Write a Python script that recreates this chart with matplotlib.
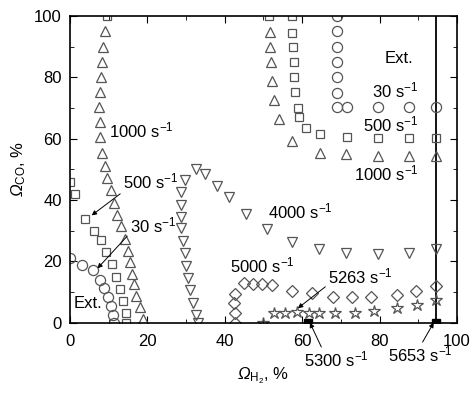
import matplotlib as mpl
mpl.use('Agg')
import matplotlib.pyplot as plt

plt.rcParams['font.family'] = ['Liberation Sans', 'DejaVu Sans']
plt.rcParams['mathtext.fontset'] = 'custom'
plt.rcParams['mathtext.rm'] = 'Liberation Sans'
plt.rcParams['mathtext.it'] = 'Liberation Sans:italic'
plt.rcParams['mathtext.sf'] = 'Liberation Sans:italic'

# 30 s-1 (circles)
c30_x = [0, 3.0, 6.0, 7.8, 8.9, 9.7, 10.6, 11.2, 11.5,
         69, 69, 69, 69, 69, 69, 69, 71.5, 79.6, 87.6, 94.6]
c30_y = [21, 18.7, 17.2, 14.0, 11.3, 8.3, 5.3, 2.6, 0,
         100, 95, 90, 85, 80, 75, 70.4, 70.4, 70.4, 70.4, 70.4]

# 500 s-1 (squares)
s500_x = [9.5, 0, 1.2, 3.8, 6.2, 8.1, 9.3, 10.9, 12.0, 12.9, 13.7, 14.5, 14.6,
          51.5, 57.5, 57.5, 57.6, 57.8, 57.9, 58.1, 58.8, 59.3, 60.9, 64.7, 71.6, 79.6, 87.6, 94.6]
s500_y = [100, 46, 42, 33.7, 30, 27, 23, 19, 15, 11, 7.2, 3.2, 0,
          100, 100, 94.6, 89.8, 84.9, 80, 75.3, 69.9, 67, 63.4, 61.5, 60.6, 60.1, 60.1, 60.1]

# 1000 s-1 (triangles)
t1000_x = [9.0, 8.6, 8.3, 8.0, 7.7, 7.6, 7.7, 7.8, 8.3, 9.0, 9.6, 10.5, 11.4, 12.2,
           13.1, 14.2, 14.9, 15.5, 16.0, 16.5, 17.1, 18.0, 18.9,
           51.6, 51.8, 52.0, 52.3, 52.8, 54.0, 57.5, 64.5, 71.4, 79.6, 87.6, 94.6]
t1000_y = [95, 90, 85, 80.2, 75.3, 70.4, 65.5, 60.6, 55.5, 51.2, 47.2, 43.4, 39, 35.2,
           31.4, 27.4, 23.4, 19.7, 16, 12.5, 8.8, 5, 1.3,
           94.9, 90, 85, 78.7, 72.6, 66.5, 59.2, 55.5, 55, 54.5, 54.5, 54.5]

# 4000 s-1 (down triangles)
t4000_x = [33.1, 32.5, 31.7, 31.1, 30.5, 30.1, 29.7, 29.1, 28.8, 28.8, 28.8, 28.8, 29.7,
           32.5, 35.0, 37.9, 41.0, 45.4, 50.9, 57.5, 64.3, 71.4, 79.6, 87.6, 94.6]
t4000_y = [0, 2.5, 6.5, 10.7, 14.5, 18.5, 22.6, 26.7, 30.8, 34.4, 38.4, 42.7, 46.5,
           50, 48.5, 44.5, 41, 35.5, 30.5, 26.4, 23.9, 22.6, 22.4, 22.8, 23.9]

# 5000 s-1 (diamonds)
d5000_x = [42.6, 42.6, 42.3, 42.6, 44.9, 47.3, 49.7, 52.3, 57.5, 62.5, 68, 73, 77.9, 84.5, 89.5, 94.6]
d5000_y = [0, 3.3, 6.3, 9.3, 12.9, 12.7, 12.7, 12.4, 10.3, 9.6, 8.5, 8.5, 8.5, 9, 10.4, 11.9]

# 5263 s-1 (stars)
st_x = [50, 52.6, 55.6, 58.6, 61.8, 64.4, 68.5, 73.6, 78.5, 84.5, 89.6, 94.6]
st_y = [0, 3.0, 3.0, 3.5, 3.0, 3.0, 3.0, 3.3, 3.7, 4.7, 5.6, 7.4]

# 5300 and 5653 s-1 (filled)
f_x = [61.5, 94.6]
f_y = [0, 0]

ext_x = 94.6

fig = plt.figure(figsize=(4.73, 3.93), dpi=100)
ax = fig.add_axes([0.148, 0.179, 0.818, 0.780])

ec = '#555555'
kw = dict(ls='none', mfc='none', mec=ec, mew=0.9)
ax.axvline(ext_x, color='k', lw=1.3, zorder=1)
ax.plot(c30_x, c30_y, 'o', ms=7.3, **kw)
ax.plot(s500_x, s500_y, 's', ms=6.3, **kw)
ax.plot(t1000_x, t1000_y, '^', ms=7.8, **kw)
ax.plot(t4000_x, t4000_y, 'v', ms=7.8, **kw)
ax.plot(d5000_x, d5000_y, 'D', ms=5.8, **kw)
ax.plot(st_x, st_y, '*', ms=9, **kw)
ax.plot(f_x, f_y, 's', ms=6.3, color='k', ls='none')

ax.set_xlim(0, 100)
ax.set_ylim(0, 100)
ax.set_xticks(range(0, 101, 20))
ax.set_yticks(range(0, 101, 20))
ax.set_xticks(range(10, 100, 20), minor=True)
ax.set_yticks(range(10, 100, 20), minor=True)
ax.tick_params(which='both', direction='in', top=True, right=True, labelsize=12)
ax.tick_params(which='major', length=5)
ax.tick_params(which='minor', length=3)
ax.tick_params(axis='x', which='major', pad=8)
ax.tick_params(axis='y', which='major', pad=6)
for s in ax.spines.values():
    s.set_linewidth(1.2)

ax.set_xlabel(r'$\mathsf{\Omega}_{\mathrm{H}_2}$, %', fontsize=12, labelpad=12)
ax.set_ylabel(r'$\mathsf{\Omega}_{\mathrm{CO}}$, %', fontsize=12, labelpad=4)

fs = 12
ax.text(10.1, 62.8, '1000 s$^{-1}$', fontsize=fs, va='center')
ax.text(0.9, 6.3, 'Ext.', fontsize=fs, va='center')
ax.text(81.3, 86.2, 'Ext.', fontsize=fs, va='center')
ax.text(78.1, 75.9, '30 s$^{-1}$', fontsize=fs, va='center')
ax.text(75.7, 64.5, '500 s$^{-1}$', fontsize=fs, va='center')
ax.text(73.5, 48.7, '1000 s$^{-1}$', fontsize=fs, va='center')
ax.text(51.2, 36.2, '4000 s$^{-1}$', fontsize=fs, va='center')
ax.text(41.3, 18.8, '5000 s$^{-1}$', fontsize=fs, va='center')

ap = dict(arrowstyle='-|>', lw=0.7, color='k', mutation_scale=7, shrinkA=0, shrinkB=0)
ax.annotate('500 s$^{-1}$', xy=(5.6, 35), xytext=(13.7, 46), fontsize=fs,
            va='center', arrowprops=dict(ap, relpos=(0.05, 0.1)))
ax.annotate('30 s$^{-1}$', xy=(7.1, 17.7), xytext=(15.5, 31.8), fontsize=fs,
            va='center', arrowprops=dict(ap, relpos=(0.0, 0.1)))
ax.annotate('5263 s$^{-1}$', xy=(58.9, 4.7), xytext=(66.7, 15), fontsize=fs,
            va='center', arrowprops=dict(ap, relpos=(0.0, 0.1)))
ax.annotate('5300 s$^{-1}$', xy=(62, 0), xytext=(60.4, -12.1), fontsize=fs,
            va='center', annotation_clip=False, arrowprops=dict(ap, relpos=(0.3, 0.95)))
ax.annotate('5653 s$^{-1}$', xy=(94, 0), xytext=(82.2, -10.5), fontsize=fs,
            va='center', annotation_clip=False, arrowprops=dict(ap, relpos=(0.5, 0.95)))

fig.savefig('out.png', dpi=100)
